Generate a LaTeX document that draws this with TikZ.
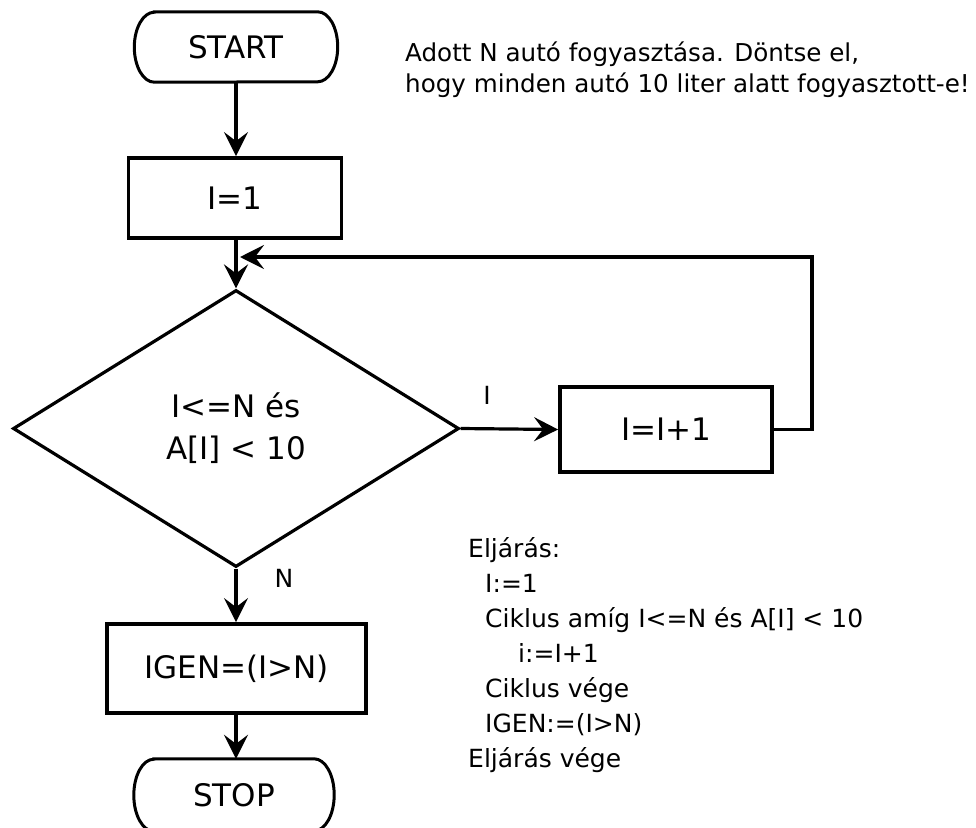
\documentclass[tikz,border=0pt]{standalone}
\usepackage{fontspec}
\setmainfont{DejaVu Sans}
\usetikzlibrary{shapes.geometric,arrows.meta}
\begin{document}
\begin{tikzpicture}[x=1pt,y=-1pt,
  proc/.style={draw, line width=3.8pt, inner sep=0pt, font=\fontsize{31}{37}\selectfont},
  term/.style={inner sep=0pt, font=\fontsize{31}{37}\selectfont},
  termline/.style={line width=3pt},
  dec/.style={draw, diamond, line width=3.2pt, inner sep=0pt, align=center, font=\fontsize{31}{42}\selectfont},
  flow/.style={line width=3.2pt, -{Stealth[length=24pt,width=24pt,inset=9pt]}},
  lab/.style={font=\fontsize{25}{30}\selectfont, inner sep=0pt},
  code/.style={font=\fontsize{25}{30}\selectfont, inner sep=0pt, anchor=base west},
  desc/.style={font=\fontsize{24.6}{30}\selectfont, inner sep=0pt, anchor=base west}]
\useasboundingbox (0,0) rectangle (976,827);
\fill[white] (0,0) rectangle (976,827);

\node[term, minimum width=203pt, minimum height=70pt] (start) at (236,47) {START};
\node[proc, minimum width=213pt, minimum height=80pt] (init) at (235,198) {I=1};
\node[dec, minimum width=446pt, minimum height=277pt] (cond) at (236,428.5) {I<=N és\\A[I] < 10};
\node[proc, minimum width=212pt, minimum height=85pt] (inc) at (666,429.5) {I=I+1};
\node[proc, minimum width=259pt, minimum height=89pt] (res) at (236.5,668.5) {IGEN=(I>N)};
\node[term, minimum width=200pt, minimum height=72pt] (stop) at (234,795) {STOP};

% terminal outlines (stadium with elliptical ends)
\draw[termline] ([xshift=20pt]start.north west) -- ([xshift=-20pt]start.north east)
  arc[start angle=90, end angle=-90, x radius=20pt, y radius=35pt]
  -- ([xshift=20pt]start.south west)
  arc[start angle=270, end angle=90, x radius=20pt, y radius=35pt] -- cycle;
\draw[termline] ([xshift=20pt]stop.north west) -- ([xshift=-20pt]stop.north east)
  arc[start angle=90, end angle=-90, x radius=20pt, y radius=36pt]
  -- ([xshift=20pt]stop.south west)
  arc[start angle=270, end angle=90, x radius=20pt, y radius=36pt] -- cycle;

\coordinate (lp) at (812,257);
\coordinate (jn) at (240,257);

\draw[flow] (start.south) -- (start.south |- init.north);
\draw[flow] (cond.north |- init.south) -- (cond.north);
\draw[flow] (cond.east) -- (inc.west);
\draw[flow] (inc.east) -| (lp) -- (jn);
\draw[flow] (cond.south) -- (cond.south |- res.north);
\draw[flow] (cond.south |- res.south) -- (cond.south |- stop.north);

\node[lab] (yes) at (487,395) {I};
\node[lab] (no) at (284,578) {N};

\node[desc] (d1) at (405,61) {Adott N autó fogyasztása. Döntse el,};
\node[desc] (d2) at (405,92) {hogy minden autó 10 liter alatt fogyasztott-e!};

\node[code] (c1) at (468,557) {Eljárás:};
\node[code] (c2) at (485,592) {I:=1};
\node[code] (c3) at (485,627) {Ciklus amíg I<=N és A[I] < 10};
\node[code] (c4) at (518,662) {i:=I+1};
\node[code] (c5) at (485,697) {Ciklus vége};
\node[code] (c6) at (485,732) {IGEN:=(I>N)};
\node[code] (c7) at (468,767) {Eljárás vége};
\end{tikzpicture}
\end{document}
